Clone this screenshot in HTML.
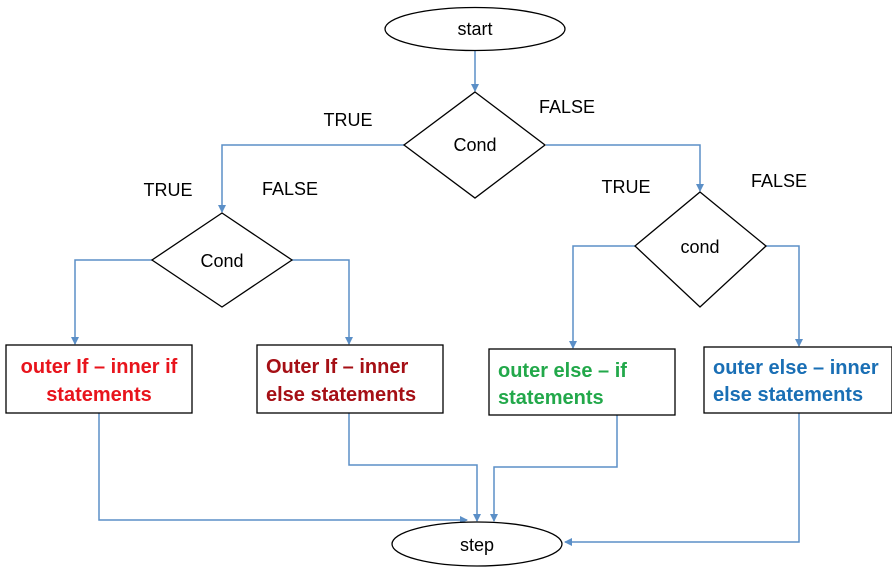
<!DOCTYPE html>
<html><head><meta charset="utf-8"><style>
html,body{margin:0;padding:0;background:#fff;}
svg{display:block;}
text{font-family:"Liberation Sans",sans-serif;}
</style></head><body>
<svg width="892" height="567" viewBox="0 0 892 567" xmlns="http://www.w3.org/2000/svg">
<defs>
<marker id="a" markerWidth="8" markerHeight="8" refX="7" refY="4" orient="auto" markerUnits="userSpaceOnUse">
<path d="M0,0 L8,4 L0,8 z" fill="#5b8fc7"/></marker>
</defs>
<g fill="none" stroke="#5b8fc7" stroke-width="1.5">
<path d="M475,50 V91" marker-end="url(#a)"/>
<path d="M404,145 H222 V212" marker-end="url(#a)"/>
<path d="M546,145 H700 V191" marker-end="url(#a)"/>
<path d="M152,260 H75 V344" marker-end="url(#a)"/>
<path d="M292,260 H349 V344" marker-end="url(#a)"/>
<path d="M635,246 H573 V348" marker-end="url(#a)"/>
<path d="M766,246 H799 V346" marker-end="url(#a)"/>
<path d="M99,413 V520 H467" marker-end="url(#a)"/>
<path d="M349,413 V465 H477 V521" marker-end="url(#a)"/>
<path d="M617,415 V467 H494 V521" marker-end="url(#a)"/>
<path d="M799,413 V542 H565" marker-end="url(#a)"/>
</g>
<g fill="#fff" stroke="#000" stroke-width="1.3">
<ellipse cx="475" cy="29" rx="90" ry="21.5"/>
<polygon points="475,92 545,145 475,198 404,145"/>
<polygon points="222,213 292,260 222,307 152,260"/>
<polygon points="700,192 766,246 700,307 635,246"/>
<rect x="6" y="345" width="186" height="68"/>
<rect x="257" y="345" width="186" height="68"/>
<rect x="489" y="349" width="186" height="66"/>
<rect x="704" y="347" width="188" height="66"/>
<ellipse cx="477" cy="544" rx="85" ry="22"/>
</g>
<g font-size="18" fill="#000" text-anchor="middle">
<text x="475" y="35">start</text>
<text x="475" y="151">Cond</text>
<text x="222" y="267">Cond</text>
<text x="700" y="253">cond</text>
<text x="477" y="551">step</text>
<text x="348" y="126">TRUE</text>
<text x="567" y="113">FALSE</text>
<text x="168" y="196">TRUE</text>
<text x="290" y="195">FALSE</text>
<text x="626" y="193">TRUE</text>
<text x="779" y="187">FALSE</text>
</g>
<g font-size="20" font-weight="bold">
<text x="99" y="373" fill="#e8141c" text-anchor="middle">outer If – inner if</text>
<text x="99" y="401" fill="#e8141c" text-anchor="middle">statements</text>
<text x="266" y="373" fill="#a50f15">Outer If – inner</text>
<text x="266" y="401" fill="#a50f15">else statements</text>
<text x="498" y="377" fill="#22a84a">outer else – if</text>
<text x="498" y="404" fill="#22a84a">statements</text>
<text x="713" y="374" fill="#1a6fb5">outer else – inner</text>
<text x="713" y="401" fill="#1a6fb5">else statements</text>
</g>
</svg>
</body></html>
